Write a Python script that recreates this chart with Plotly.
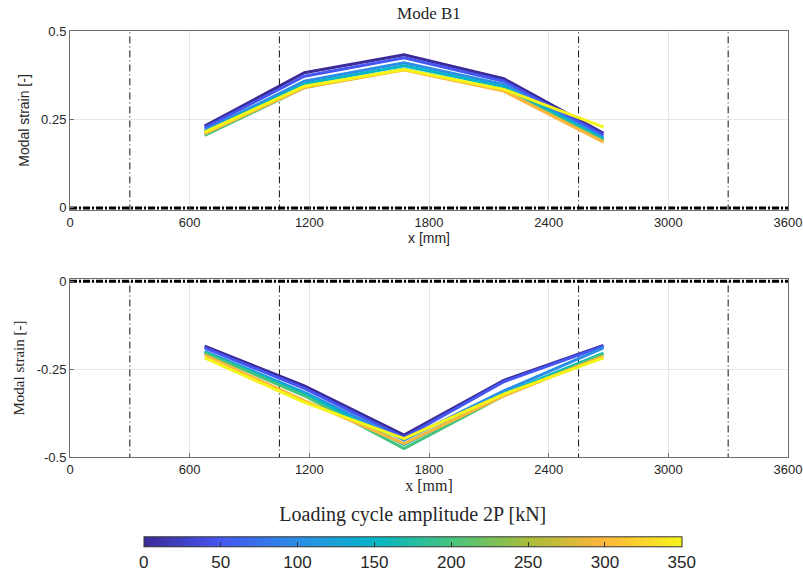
import plotly.graph_objects as go

# Sensor positions along the beam [mm]
x_pos = [675, 1175, 1675, 2175, 2675]

# Loading cycle amplitudes 2P [kN]
amplitudes = [0, 50, 100, 150, 200, 300, 350]

# Modal strain, upper row of sensors (one list per amplitude)
top_strain = [
    [0.231, 0.382, 0.433, 0.365, 0.211],
    [0.226, 0.372, 0.424, 0.358, 0.205],
    [0.219, 0.358, 0.410, 0.349, 0.197],
    [0.214, 0.350, 0.402, 0.342, 0.194],
    [0.205, 0.340, 0.392, 0.333, 0.190],
    [0.210, 0.340, 0.390, 0.330, 0.186],
    [0.214, 0.344, 0.391, 0.335, 0.228],
]

# Modal strain, lower row of sensors
bottom_strain = [
    [-0.185, -0.298, -0.438, -0.282, -0.183],
    [-0.190, -0.305, -0.445, -0.286, -0.185],
    [-0.200, -0.316, -0.452, -0.312, -0.190],
    [-0.202, -0.320, -0.465, -0.320, -0.205],
    [-0.204, -0.326, -0.476, -0.326, -0.207],
    [-0.210, -0.340, -0.462, -0.326, -0.213],
    [-0.218, -0.345, -0.448, -0.321, -0.218],
]

# Support / load-point lines
markers_x = [300, 1050, 2550, 3300]
beam_x = [0, 3600]

x_ticks = [0, 600, 1200, 1800, 2400, 3000, 3600]

cmin, cmax = 0, 350
parula = [
    [0.0, "#3b2a98"],
    [0.143, "#4557f0"],
    [0.286, "#2b8ee6"],
    [0.429, "#05b5c8"],
    [0.571, "#45c47e"],
    [0.714, "#a8bd3a"],
    [0.857, "#ffb63c"],
    [1.0, "#f5f51a"],
]


def color_at(v):
    t = (v - cmin) / (cmax - cmin)
    for (t0, c0), (t1, c1) in zip(parula[:-1], parula[1:]):
        if t0 <= t <= t1:
            f = 0 if t1 == t0 else (t - t0) / (t1 - t0)
            a = [int(c0[i:i + 2], 16) for i in (1, 3, 5)]
            b = [int(c1[i:i + 2], 16) for i in (1, 3, 5)]
            r = [round(a[k] + (b[k] - a[k]) * f) for k in range(3)]
            return "rgb(%d,%d,%d)" % tuple(r)
    return parula[-1][1]


SANS = "Liberation Sans"
SERIF = "Liberation Serif"

fig = go.Figure()

for xa, ya, ylim, data in (("x", "y", (0.0, 0.5), top_strain),
                           ("x2", "y2", (-0.5, 0.0), bottom_strain)):
    # vertical dash-dot reference lines
    for xm in markers_x:
        fig.add_trace(go.Scatter(x=[xm, xm], y=[ylim[0] - 0.01, ylim[1] + 0.01],
                                 mode="lines", xaxis=xa, yaxis=ya,
                                 line=dict(color="#111111", width=1, dash="7px,3px,1px,3px"),
                                 hoverinfo="skip", showlegend=False))
    # beam axis at zero strain
    fig.add_trace(go.Scatter(x=beam_x, y=[0, 0], mode="lines", xaxis=xa, yaxis=ya,
                             line=dict(color="black", width=3, dash="7px,2px,2px,2px"),
                             hoverinfo="skip", showlegend=False))
    for amp, vals in zip(amplitudes, data):
        fig.add_trace(go.Scatter(x=x_pos, y=vals, mode="lines", xaxis=xa, yaxis=ya,
                                 line=dict(color=color_at(amp), width=3),
                                 name="%d kN" % amp, showlegend=False))

# colour bar carrier
fig.add_trace(go.Scatter(
    x=[None], y=[None], mode="markers", xaxis="x", yaxis="y", showlegend=False,
    marker=dict(color=[cmin, cmax], cmin=cmin, cmax=cmax, colorscale=parula,
                showscale=True,
                colorbar=dict(
                    orientation="h", x=0.4774, xanchor="center", y=-0.2084, yanchor="middle",
                    len=538, lenmode="pixels", thickness=10, thicknessmode="pixels",
                    outlinecolor="#333333", outlinewidth=1,
                    tickvals=[0, 50, 100, 150, 200, 250, 300, 350],
                    ticks="inside", ticklen=5, tickcolor="#333333",
                    tickfont=dict(family=SANS, size=17, color="#262626"),
                    title=dict(text="Loading cycle amplitude 2P [kN]", side="top",
                               font=dict(family=SERIF, size=20, color="#262626")),
                    xpad=0, ypad=0))))

axis_common = dict(showline=True, mirror=True, linecolor="#6e6e6e", linewidth=1,
                   ticks="inside", ticklen=4, tickcolor="#6e6e6e",
                   showgrid=True, gridcolor="#e6e6e6", zeroline=False,
                   tickfont=dict(family=SANS, size=13, color="#262626"))

fig.update_layout(
    width=803, height=575,
    margin=dict(l=70, r=15, t=31, b=118, autoexpand=False),
    paper_bgcolor="white", plot_bgcolor="white",
    title=dict(text="Mode B1", x=0.5342, xanchor="center", y=0.978, yanchor="middle",
               yref="container", font=dict(family=SERIF, size=17, color="#262626")),
    xaxis=dict(axis_common, domain=[0, 1], range=[0, 3600], tickvals=x_ticks,
               anchor="y",
               title=dict(text="x [mm]", standoff=0,
                          font=dict(family=SANS, size=14, color="#262626"))),
    yaxis=dict(axis_common, domain=[0.5798, 1.0], range=[-0.006, 0.5],
               tickvals=[0, 0.25, 0.5], ticktext=["0", "0.25", "0.5"], anchor="x",
               title=dict(text="Modal strain [-]", standoff=8,
                          font=dict(family=SANS, size=14, color="#262626"))),
    xaxis2=dict(axis_common, domain=[0, 1], range=[0, 3600], tickvals=x_ticks,
                anchor="y2",
                title=dict(text="x [mm]", standoff=2,
                           font=dict(family=SERIF, size=16, color="#262626"))),
    yaxis2=dict(axis_common, domain=[0, 0.4178], range=[-0.5, 0.006],
                tickvals=[-0.5, -0.25, 0], ticktext=["-0.5", "-0.25", "0"], anchor="x2",
                title=dict(text="Modal strain [-]", standoff=8,
                           font=dict(family=SERIF, size=15, color="#262626"))),
)

fig.write_html("out.html")
